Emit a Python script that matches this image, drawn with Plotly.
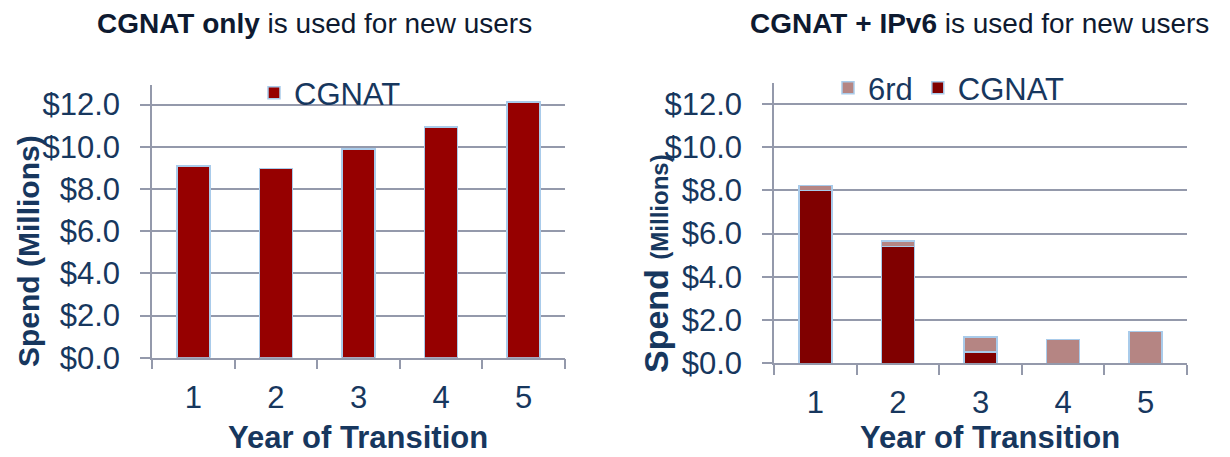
import plotly.graph_objects as go

years = ["1", "2", "3", "4", "5"]
cgnat_only = [9.08, 8.96, 9.9, 10.93, 12.13]
dual_cgnat = [7.98, 5.41, 0.52, 0.0, 0.0]
dual_6rd = [0.25, 0.24, 0.70, 1.09, 1.46]
y_ticks = [0, 2, 4, 6, 8, 10, 12]
y_tick_text = ["$%.1f" % v for v in y_ticks]

W, H = 1230, 457
NAVY = "#17375E"
GRID = "#9499AB"
EDGE = "#A9CBEA"
FONT = "Liberation Sans, Arial, sans-serif"

def px(x):
    return x / W

def py(y):
    return 1 - y / H

fig = go.Figure()

fig.add_trace(go.Bar(x=years, y=cgnat_only, name="CGNAT", xaxis="x", yaxis="y",
                     marker=dict(color="#960000", line=dict(color=EDGE, width=1.5)),
                     legend="legend"))
fig.add_trace(go.Bar(x=years, y=dual_cgnat, name="CGNAT", xaxis="x2", yaxis="y2",
                     marker=dict(color="#800000", line=dict(color=EDGE, width=1.5)),
                     legend="legend2", legendrank=2))
fig.add_trace(go.Bar(x=years, y=dual_6rd, name="6rd", xaxis="x2", yaxis="y2",
                     marker=dict(color="#B58583", line=dict(color=EDGE, width=1.5)),
                     legend="legend2", legendrank=1))

def xaxis(dom, anchor):
    return dict(domain=dom, anchor=anchor, type="category", tickson="boundaries",
                ticks="outside", ticklen=10, tickwidth=1.5, tickcolor=GRID,
                showline=True, linecolor=GRID, linewidth=1.5, showgrid=False,
                tickfont=dict(size=31, color=NAVY, family=FONT), automargin=False,
                ticklabelstandoff=11, range=[-0.5, 4.5])

def yaxis(dom, anchor, top):
    return dict(domain=dom, anchor=anchor, range=[0, top], tickvals=y_ticks,
                ticktext=y_tick_text, ticks="outside", ticklen=10, tickwidth=1.5,
                tickcolor=GRID, showline=True, linecolor=GRID, linewidth=1.5,
                showgrid=True, gridcolor=GRID, gridwidth=1.5, zeroline=False,
                tickfont=dict(size=31, color=NAVY, family=FONT), automargin=False,
                ticklabelstandoff=14)

fig.update_layout(
    width=W, height=H, autosize=False,
    margin=dict(l=0, r=0, t=0, b=0, autoexpand=False),
    paper_bgcolor="white", plot_bgcolor="white",
    barmode="stack", bargap=0.6,
    font=dict(family=FONT, color=NAVY),
    xaxis=xaxis([px(152), px(565)], "y"),
    yaxis=yaxis([py(357.7), py(85)], "x", (357.7 - 85) / 21.1),
    xaxis2=xaxis([px(774), px(1187)], "y2"),
    yaxis2=yaxis([py(363.3), py(82.7)], "x2", (363.3 - 82.7) / 21.63),
    showlegend=True,
    legend=dict(orientation="h", x=px(254), y=py(93), xanchor="left", yanchor="middle",
                bgcolor="rgba(0,0,0,0)", font=dict(size=31, color=NAVY, family=FONT),
                itemwidth=30, tracegroupgap=0),
    legend2=dict(orientation="h", x=px(828), y=py(88), xanchor="left", yanchor="middle",
                 bgcolor="rgba(0,0,0,0)", font=dict(size=31, color=NAVY, family=FONT),
                 itemwidth=30, traceorder="normal"),
)

anns = [
    dict(x=px(314.5), y=py(23), yanchor="middle",
         text="<b>CGNAT only</b> is used for new users", font=dict(size=28, color="#0E1A30")),
    dict(x=px(979), y=py(23), yanchor="middle",
         text="<b>CGNAT + IPv6</b> is used for new users", font=dict(size=28, color="#0E1A30")),
    dict(x=px(358), y=py(456.5), yanchor="bottom", text="<b>Year of Transition</b>",
         font=dict(size=31, color=NAVY)),
    dict(x=px(990), y=py(456.5), yanchor="bottom", text="<b>Year of Transition</b>",
         font=dict(size=31, color=NAVY)),
    dict(x=px(28), y=py(251), yanchor="middle", text="<b>Spend (Millions)</b>", textangle=-90,
         font=dict(size=30, color=NAVY)),
    dict(x=px(656), y=py(264), yanchor="middle",
         text="<b>Spend <span style='font-size:24px'>(Millions)</span></b>", textangle=-90,
         font=dict(size=34, color=NAVY)),
]
for a in anns:
    a.update(xref="paper", yref="paper", showarrow=False, xanchor="center")
    a["font"]["family"] = FONT
fig.update_layout(annotations=anns)

post = (
    "document.body.style.margin='0';"
    "document.documentElement.style.overflow='hidden';"
    "document.body.style.overflow='hidden';"
    "var gd=document.getElementById('{plot_id}');"
    "gd.style.position='fixed';gd.style.top='0px';gd.style.left='0px';"
)
fig.write_html("out.html", config={"displayModeBar": False}, post_script=post)
